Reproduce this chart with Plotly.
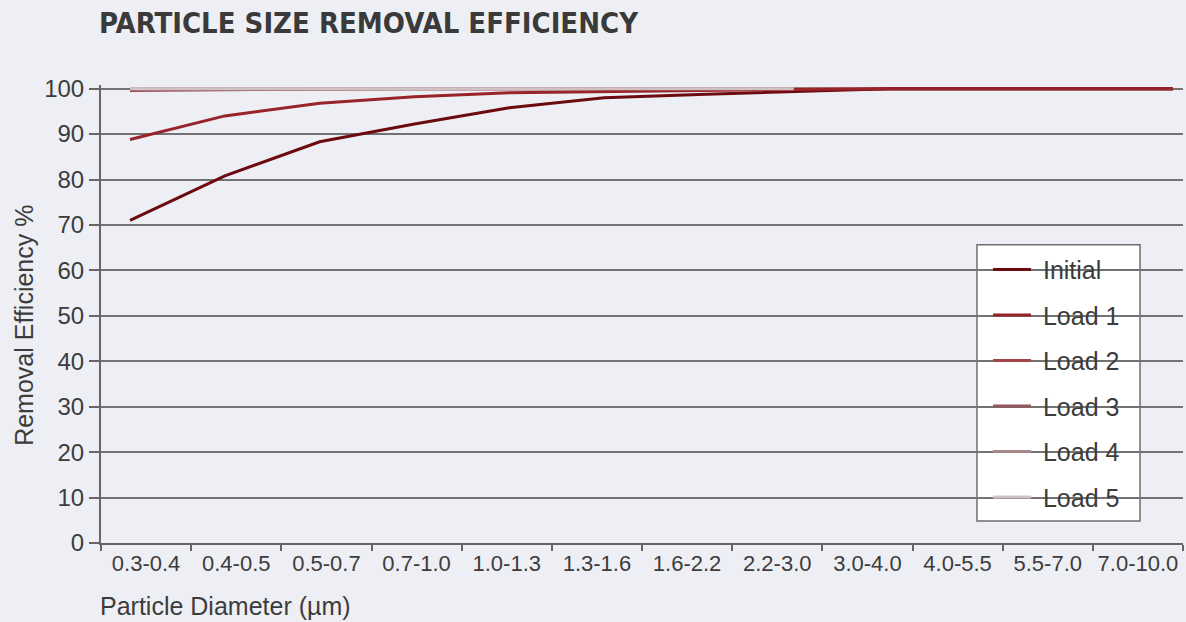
import plotly.graph_objects as go

categories = ["0.3-0.4", "0.4-0.5", "0.5-0.7", "0.7-1.0", "1.0-1.3", "1.3-1.6",
              "1.6-2.2", "2.2-3.0", "3.0-4.0", "4.0-5.5", "5.5-7.0", "7.0-10.0"]
initial = [71.0, 80.8, 88.3, 92.2, 95.8, 98.0, 98.7, 99.4, 100, 100, 100, 100]
load1 = [88.8, 94.0, 96.8, 98.2, 99.1, 99.4, 99.6, 99.8, 100, 100, 100, 100]
load2 = [99.6, 99.8, 99.9, 100, 100, 100, 100, 100, 100, 100, 100, 100]
load3 = [99.8, 99.9, 100, 100, 100, 100, 100, 100, 100, 100, 100, 100]
load4 = [100, 100, 100, 100, 100, 100, 100, 100, 100, 100, 100, 100]
load5 = [100, 100, 100, 100, 100, 100, 100, 100, None, None, None, None]

series = {
    "Initial": (initial, "#6c0a10", 1),
    "Load 1": (load1, "#982329", 2),
    "Load 2": (load2, "#a2464c", 3),
    "Load 3": (load3, "#93575e", 4),
    "Load 4": (load4, "#a8888b", 5),
    "Load 5": (load5, "#d0c2c2", 6),
}
draw_order = ["Load 2", "Load 3", "Load 4", "Initial", "Load 1", "Load 5"]

idx = list(range(len(categories)))
fig = go.Figure()
# invisible trace that builds the category axis
fig.add_trace(go.Scatter(x=categories, y=[None] * len(categories), xaxis="x", yaxis="y",
                         showlegend=False, hoverinfo="skip", mode="lines"))
for name in draw_order:
    vals, col, rank = series[name]
    fig.add_trace(go.Scatter(x=idx, y=vals, name="\u00a0" + name, mode="lines",
                             xaxis="x2", yaxis="y",
                             line=dict(color=col, width=3), legendrank=rank,
                             legendgroup=name))

FONT = "Liberation Sans, Arial, sans-serif"
fig.update_layout(
    width=1186, height=622, autosize=False,
    paper_bgcolor="#edeff5", plot_bgcolor="rgba(0,0,0,0)",
    margin=dict(l=101, r=3, t=85, b=79, autoexpand=False),
    title=dict(text="<b>PARTICLE SIZE REMOVAL EFFICIENCY</b>", x=0.0835, xanchor="left",
               y=0.979, yanchor="top",
               font=dict(family="DejaVu Sans Condensed, DejaVu Sans, sans-serif", size=29,
                         color="#3a3a3a")),
    xaxis=dict(type="category", categoryorder="array", categoryarray=categories,
               range=[-0.5, 11.5], tickson="boundaries", ticks="outside", ticklen=6,
               tickcolor="#666666", tickwidth=2, showline=True, linecolor="#666666",
               linewidth=2, showgrid=False, zeroline=False, tickangle=0, automargin=False,
               tickfont=dict(family=FONT, size=22, color="#3c3c3c"), fixedrange=True),
    xaxis2=dict(overlaying="x", range=[-0.306, 11.105], visible=False, showgrid=False,
                zeroline=False),
    yaxis=dict(range=[0, 100.8], tickvals=list(range(0, 101, 10)), ticks="outside",
               ticklen=10, tickcolor="#666666", tickwidth=2, showline=True,
               linecolor="#666666", linewidth=2, showgrid=True, gridcolor="#737373",
               gridwidth=1.5, zeroline=False, automargin=False,
               tickfont=dict(family=FONT, size=24, color="#3c3c3c")),
    legend=dict(x=0.8198, y=0.6466, xanchor="left", yanchor="top",
                bgcolor="rgba(0,0,0,0)", borderwidth=0, tracegroupgap=10, itemwidth=38,
                font=dict(family=FONT, size=25, color="#3c3c3c")),
    showlegend=True,
    shapes=[dict(type="rect", xref="paper", yref="paper", x0=0.8096, x1=0.9603,
                 y0=0.0481, y1=0.6512, fillcolor="white", layer="between",
                 line=dict(color="#6e6e6e", width=1.5))],
    annotations=[
        dict(text="Particle Diameter (µm)", xref="paper", yref="paper", x=-0.003, y=-0.103,
             xanchor="left", yanchor="top", showarrow=False,
             font=dict(family=FONT, size=25, color="#3c3c3c")),
        dict(text="Removal Efficiency %", xref="paper", yref="paper", x=-0.0713, y=0.476,
             xanchor="center", yanchor="middle", textangle=-90, showarrow=False,
             font=dict(family=FONT, size=25, color="#3c3c3c")),
    ],
)
fig.write_html("out.html", config={"displayModeBar": False, "responsive": False},
               post_script="document.body.style.margin='0';document.body.style.overflow='hidden';")
